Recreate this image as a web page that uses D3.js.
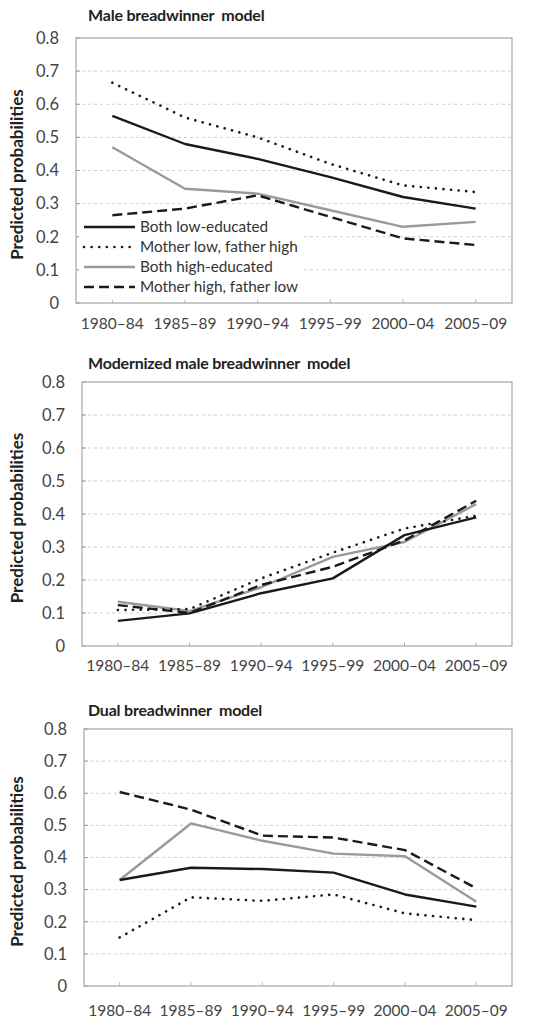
<!DOCTYPE html>
<html lang="en">
<head>
<meta charset="UTF-8">
<title>Predicted probabilities by parental education</title>
<script src="https://d3js.org/d3.v7.min.js"></script>
<style>
  body { margin: 0; background: #fff; }
  svg { font-family: Lato, "Open Sans", sans-serif; }
  .tick-label { font-size: 15.5px; fill: #444; }
  .title { font-size: 16px; font-weight: bold; fill: #222; letter-spacing: -0.2px; }
  .ylabel { font-size: 17px; font-weight: bold; fill: #222; }
  .legend text { font-size: 15.3px; fill: #333; }
</style>
</head>
<body>
<svg width="546" height="1021"></svg>
<script>
// categories and tick labels
const periods = ["1980–84", "1985–89", "1990–94", "1995–99", "2000–04", "2005–09"];
const yTicks = [0, 0.1, 0.2, 0.3, 0.4, 0.5, 0.6, 0.7, 0.8];
const seriesNames = ["Both low-educated", "Mother low, father high", "Both high-educated", "Mother high, father low"];
const panelTitles = ["Male breadwinner  model", "Modernized male breadwinner  model", "Dual breadwinner  model"];

// Male breadwinner model
const maleBothLow      = [0.565, 0.48, 0.435, 0.38, 0.32, 0.285];
const maleMotherLow    = [0.665, 0.56, 0.50, 0.42, 0.355, 0.335];
const maleBothHigh     = [0.47, 0.345, 0.33, 0.28, 0.23, 0.245];
const maleMotherHigh   = [0.265, 0.285, 0.325, 0.26, 0.195, 0.175];

// Modernized male breadwinner model
const modBothLow       = [0.076, 0.099, 0.16, 0.205, 0.336, 0.39];
const modMotherLow     = [0.109, 0.112, 0.205, 0.283, 0.356, 0.395];
const modBothHigh      = [0.134, 0.106, 0.178, 0.27, 0.315, 0.43];
const modMotherHigh    = [0.124, 0.1, 0.185, 0.24, 0.32, 0.44];

// Dual breadwinner model
const dualBothLow      = [0.33, 0.368, 0.364, 0.353, 0.285, 0.247];
const dualMotherLow    = [0.151, 0.276, 0.265, 0.285, 0.226, 0.205];
const dualBothHigh     = [0.33, 0.506, 0.452, 0.412, 0.404, 0.262];
const dualMotherHigh   = [0.604, 0.549, 0.468, 0.462, 0.423, 0.304];

const panelData = [
  [maleBothLow, maleMotherLow, maleBothHigh, maleMotherHigh],
  [modBothLow, modMotherLow, modBothHigh, modMotherHigh],
  [dualBothLow, dualMotherLow, dualBothHigh, dualMotherHigh]
];

const styles = [
  { stroke: "#1a1a1a", width: 2.4, dash: null, cap: "butt" },
  { stroke: "#1a1a1a", width: 2.6, dash: "0.1,7.5", cap: "round" },
  { stroke: "#9a9a9a", width: 2.4, dash: null, cap: "butt" },
  { stroke: "#1a1a1a", width: 2.4, dash: "10,5", cap: "butt" }
];

// frame layout per panel
const frames = [
  { left: 76, right: 512, top: 38,  bottom: 303, titleY: 21,  labelY: 329 },
  { left: 82, right: 512, top: 382, bottom: 646, titleY: 369, labelY: 671 },
  { left: 84, right: 512, top: 729, bottom: 986, titleY: 716, labelY: 1016 }
];

const svg = d3.select("svg");

frames.forEach((f, i) => {
  const g = svg.append("g");
  const x = d3.scalePoint().domain(periods).range([f.left, f.right]).padding(0.5);
  const y = d3.scaleLinear().domain([0, 0.8]).range([f.bottom, f.top]);

  // gridlines
  g.selectAll(".grid").data(yTicks.filter(t => t > 0 && t < 0.8)).enter()
    .append("line")
    .attr("x1", f.left).attr("x2", f.right)
    .attr("y1", d => y(d)).attr("y2", d => y(d))
    .attr("stroke", "#cfcfcf").attr("stroke-width", 1)
    .attr("stroke-dasharray", "3,3");

  // y ticks on the frame
  g.selectAll(".ytick").data(yTicks).enter()
    .append("line")
    .attr("x1", f.left).attr("x2", f.left + 4)
    .attr("y1", d => y(d)).attr("y2", d => y(d))
    .attr("stroke", "#999");

  // x ticks
  g.selectAll(".xtick").data(periods).enter()
    .append("line")
    .attr("x1", d => x(d)).attr("x2", d => x(d))
    .attr("y1", f.bottom).attr("y2", f.bottom - 4)
    .attr("stroke", "#bbb");

  // legend box in the first panel hides gridlines
  if (i === 0) {
    g.append("rect")
      .attr("x", f.left + 3).attr("y", y(0.265) + 4)
      .attr("width", 222).attr("height", y(0.01) - y(0.265) - 4)
      .attr("fill", "#fff");
  }

  // frame
  g.append("rect")
    .attr("x", f.left).attr("y", f.top)
    .attr("width", f.right - f.left).attr("height", f.bottom - f.top)
    .attr("fill", "none").attr("stroke", "#a6a6a6").attr("stroke-width", 1.2);

  // y tick labels
  g.selectAll(".ylab").data(yTicks).enter()
    .append("text")
    .attr("class", "tick-label")
    .attr("x", f.left - 17).attr("y", d => y(d))
    .attr("dy", "0.35em").attr("text-anchor", "end")
    .style("font-size", "16.5px")
    .text(d => d === 0 ? "0" : d3.format(".1f")(d));

  // x tick labels
  g.selectAll(".xlab").data(periods).enter()
    .append("text")
    .attr("class", "tick-label")
    .attr("x", d => x(d)).attr("y", f.labelY)
    .attr("text-anchor", "middle")
    .text(d => d);

  // title
  g.append("text").attr("class", "title")
    .attr("x", 88).attr("y", f.titleY)
    .attr("xml:space", "preserve")
    .style("white-space", "pre")
    .text(panelTitles[i]);

  // y axis label
  g.append("text").attr("class", "ylabel")
    .attr("transform", `translate(23,${(f.top + f.bottom) / 2 + 4}) rotate(-90)`)
    .attr("text-anchor", "middle")
    .text("Predicted probabilities");

  const line = d3.line().x((d, j) => x(periods[j])).y(d => y(d));

  // draw order: gray first, then others
  [2, 0, 3, 1].forEach(s => {
    const st = styles[s];
    g.append("path")
      .datum(panelData[i][s])
      .attr("d", line)
      .attr("fill", "none")
      .attr("stroke", st.stroke)
      .attr("stroke-width", st.width)
      .attr("stroke-linecap", st.cap)
      .attr("stroke-linejoin", "round")
      .attr("stroke-dasharray", st.dash);
  });

  // legend
  if (i === 0) {
    const lg = g.append("g").attr("class", "legend");
    seriesNames.forEach((name, s) => {
      const st = styles[s];
      const ly = 227 + s * 20;
      lg.append("line")
        .attr("x1", 84).attr("x2", 135)
        .attr("y1", ly).attr("y2", ly)
        .attr("stroke", st.stroke)
        .attr("stroke-width", st.width)
        .attr("stroke-linecap", st.cap)
        .attr("stroke-dasharray", st.dash);
      lg.append("text")
        .attr("x", 140).attr("y", ly).attr("dy", "0.35em")
        .text(name);
    });
  }
});
</script>
</body>
</html>
